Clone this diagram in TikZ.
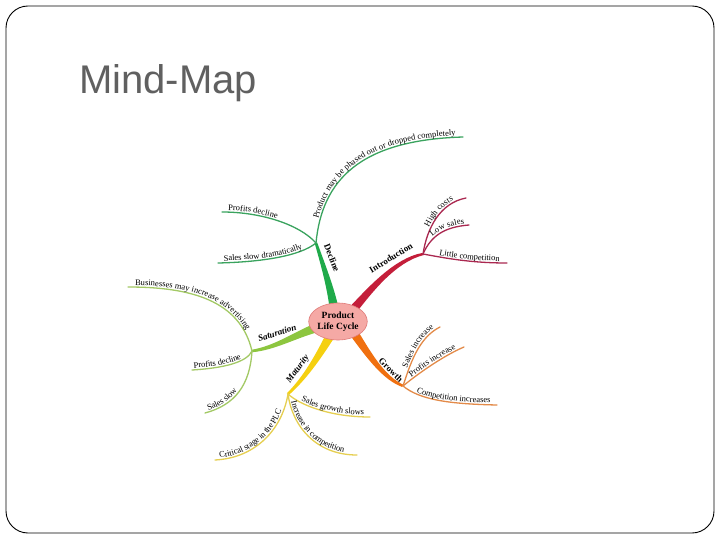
\documentclass[tikz,border=0pt]{standalone}
\usepackage{fontspec}
\setmainfont{Liberation Serif}
\newfontfamily\mmtitlefont{Liberation Sans}
\usetikzlibrary{calc,shapes.geometric,decorations.text}
\definecolor{dTrunk}{HTML}{1FAA4A}
\definecolor{dSub}{HTML}{3AA35E}
\definecolor{iTrunk}{HTML}{C41E3A}
\definecolor{iSub}{HTML}{AA2850}
\definecolor{gTrunk}{HTML}{F07010}
\definecolor{gSub}{HTML}{E38A48}
\definecolor{mTrunk}{HTML}{F5D010}
\definecolor{mSub}{HTML}{E6CF50}
\definecolor{sTrunk}{HTML}{8DC63F}
\definecolor{sSub}{HTML}{A3C965}
\definecolor{ccFill}{HTML}{F5A9A5}
\definecolor{ccBord}{HTML}{E07A78}
\definecolor{titleGray}{HTML}{606060}
\newcommand\mmsf{\fontsize{8.5}{10}\selectfont}
\newcommand\mmtrunk[5]{%
  \fill[#1] ($(#2)!4.5pt!90:(#5)$) .. controls ($(#3)!3.2pt!90:(#5)$) and ($(#4)!2pt!90:(#5)$) .. ($(#5)!1.3pt!-90:(#2)$)
    -- ($(#5)!1.3pt!90:(#2)$) .. controls ($(#4)!2pt!-90:(#5)$) and ($(#3)!3.2pt!-90:(#5)$) .. ($(#2)!4.5pt!-90:(#5)$) -- cycle;}
\tikzset{
  subline/.style={line width=1.3pt, line cap=round},
  lbl/.style 2 args={decorate, decoration={text along path, text format delimiters={|}{|},
      text={|\mmsf|#2}, raise=1.8pt, text align={left indent=#1}}},
  blabel/.style={font=\fontsize{9}{10}\selectfont\bfseries, inner sep=0pt}
}
\begin{document}
\begin{tikzpicture}[x=1pt,y=-1pt]
\useasboundingbox (0,0) rectangle (720,540);
\fill[white] (0,0) rectangle (720,540);
\draw[black, line width=0.9pt, rounded corners=22pt] (6,6) rectangle (714,533);
\node[anchor=base west, inner sep=0pt, text=titleGray, font=\mmtitlefont\fontsize{40}{45}\selectfont] (title) at (79,93.3) {Mind-Map};

% junction coordinates
\coordinate (D0) at (334,308);
\coordinate (DJ) at (316,243);
\coordinate (I0) at (352,311);
\coordinate (IJ) at (423,254);
\coordinate (G0) at (354,333);
\coordinate (GJ) at (403,386);
\coordinate (M0) at (330,336);
\coordinate (MJ) at (288,394);
\coordinate (S0) at (316,328);
\coordinate (SJ) at (252,351);
% end points
\coordinate (DPe) at (463,137);
\coordinate (DPDe) at (222,212);
\coordinate (DSe) at (218,263);
\coordinate (IHe) at (466,198);
\coordinate (ILe) at (469,225);
\coordinate (ICe) at (507,263);
\coordinate (GSe) at (440,327);
\coordinate (GPe) at (464,347);
\coordinate (GCe) at (497,405);
\coordinate (MSe) at (370,417);
\coordinate (MIe) at (357,455);
\coordinate (MCe) at (215,460);
\coordinate (SBe) at (128,287);
\coordinate (SPe) at (192,370);
\coordinate (SSe) at (205,413);

% trunks
\mmtrunk{dTrunk}{D0}{330,285}{322,262}{DJ}
\mmtrunk{iTrunk}{I0}{370,290}{395,260}{IJ}
\mmtrunk{gTrunk}{G0}{370,357}{384,378}{GJ}
\mmtrunk{mTrunk}{M0}{318,357}{305,378}{MJ}
\mmtrunk{sTrunk}{S0}{295,335}{275,348}{SJ}

% Decline sub-branches
\draw[subline, dSub] (DJ) .. controls (322,180) and (360,140) .. (DPe);
\path[lbl={24pt}{Product may be phased out or dropped completely}] (DJ) .. controls (322,180) and (360,140) .. (DPe);
\draw[subline, dSub] (DPDe) .. controls (262,212) and (300,225) .. (DJ);
\path[lbl={6pt}{Profits decline}] (DPDe) .. controls (262,212) and (300,225) .. (DJ);
\draw[subline, dSub] (DSe) .. controls (262,262) and (300,256) .. (DJ);
\path[lbl={6pt}{Sales slow dramatically}] (DSe) .. controls (262,262) and (300,256) .. (DJ);

% Introduction sub-branches
\draw[subline, iSub] (IJ) .. controls (427,228) and (440,203) .. (IHe);
\path[lbl={27pt}{High costs}] (IJ) .. controls (427,228) and (440,203) .. (IHe);
\draw[subline, iSub] (IJ) .. controls (431,236) and (444,227) .. (ILe);
\path[lbl={19pt}{Low sales}] (IJ) .. controls (431,236) and (444,227) .. (ILe);
\draw[subline, iSub] (IJ) .. controls (445,258) and (470,263) .. (ICe);
\path[lbl={16pt}{Little competition}] (IJ) .. controls (445,258) and (470,263) .. (ICe);

% Growth sub-branches
\draw[subline, gSub] (GJ) .. controls (410,365) and (418,338) .. (GSe);
\path[lbl={18pt}{Sales increase}] (GJ) .. controls (410,365) and (418,338) .. (GSe);
\draw[subline, gSub] (GJ) .. controls (420,372) and (445,355) .. (GPe);
\path[lbl={12pt}{Profits increase}] (GJ) .. controls (420,372) and (445,355) .. (GPe);
\draw[subline, gSub] (GJ) .. controls (420,400) and (450,404) .. (GCe);
\path[lbl={15pt}{Competition increases}] (GJ) .. controls (420,400) and (450,404) .. (GCe);

% Maturity sub-branches
\draw[subline, mSub] (MJ) .. controls (300,405) and (330,417) .. (MSe);
\path[lbl={15pt}{Sales growth slows}] (MJ) .. controls (300,405) and (330,417) .. (MSe);
\draw[subline, mSub] (MJ) .. controls (292,425) and (315,455) .. (MIe);
\path[lbl={8pt}{Increase in competition}] (MJ) .. controls (292,425) and (315,455) .. (MIe);
\draw[subline, mSub] (MCe) .. controls (255,458) and (282,430) .. (MJ);
\path[lbl={5pt}{Critical stage in the PLC}] (MCe) .. controls (255,458) and (282,430) .. (MJ);

% Saturation sub-branches
\draw[subline, sSub] (SBe) .. controls (190,287) and (240,300) .. (SJ);
\path[lbl={7pt}{Businesses may increase advertising}] (SBe) .. controls (190,287) and (240,300) .. (SJ);
\draw[subline, sSub] (SPe) .. controls (225,368) and (247,362) .. (SJ);
\path[lbl={2pt}{Profits decline}] (SPe) .. controls (225,368) and (247,362) .. (SJ);
\draw[subline, sSub] (SSe) .. controls (235,405) and (250,385) .. (SJ);
\path[lbl={4pt}{Sales slow}] (SSe) .. controls (235,405) and (250,385) .. (SJ);

% branch labels
\node[blabel, rotate=-68] (lD) at (332,258) {Decline};
\node[blabel, rotate=31] (lI) at (391,258) {Introduction};
\node[blabel, rotate=-44] (lG) at (391,370) {Growth};
\node[blabel, rotate=54, font=\fontsize{9}{10}\selectfont\bfseries\itshape] (lM) at (298,369) {Maturity};
\node[blabel, rotate=17, font=\fontsize{9}{10}\selectfont\bfseries\itshape] (lS) at (277,333) {Saturation};

% centre
\node[ellipse, draw=ccBord, fill=ccFill, line width=0.6pt, minimum width=58pt, minimum height=37pt,
  inner sep=0pt, align=center, font=\fontsize{9.5}{11}\selectfont\bfseries] (C) at (338,321.5) {Product\\Life Cycle};
\end{tikzpicture}
\end{document}
